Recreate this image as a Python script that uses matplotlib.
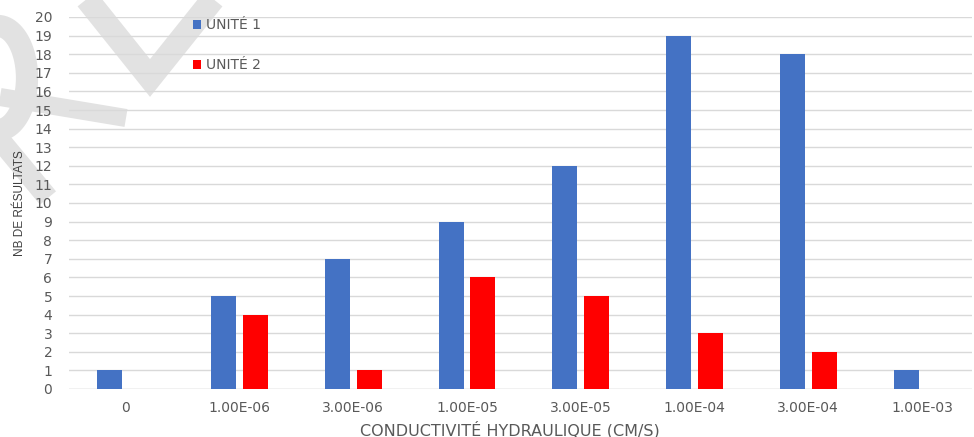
import matplotlib
matplotlib.use("Agg")
import matplotlib.pyplot as plt
import numpy as np
from matplotlib.lines import Line2D
from matplotlib import font_manager

categories = ["0", "1.00E-06", "3.00E-06", "1.00E-05", "3.00E-05",
              "1.00E-04", "3.00E-04", "1.00E-03"]
unite1 = [1, 5, 7, 9, 12, 19, 18, 1]
unite2 = [0, 4, 1, 6, 5, 3, 2, 0]

BLUE = "#4472C4"
RED = "#FF0000"
GREY = "#595959"

names = {f.name for f in font_manager.fontManager.ttflist}
if "Liberation Sans Narrow" in names:
    ylab_font, ylab_size = "Liberation Sans Narrow", 10.5
else:
    ylab_font, ylab_size = "Liberation Sans", 8.5

fig = plt.figure(figsize=(9.74, 4.37), dpi=100)
ax = fig.add_axes([69 / 974, 1 - 389 / 437, 903 / 974, 372 / 437])
ax.patch.set_visible(False)

x = np.arange(len(categories))
w = 0.22
ax.bar(x - 0.14, unite1, w, color=BLUE, label="UNITÉ 1", zorder=3)
ax.bar(x + 0.14, unite2, w, color=RED, label="UNITÉ 2", zorder=3)

ax.set_xlim(-0.5, 7.44)
ax.set_ylim(0, 20)
ax.set_yticks(range(0, 21))
ax.set_xticks(x)
ax.set_xticklabels(categories)
ax.tick_params(length=0, labelsize=10, labelcolor=GREY)
ax.tick_params(axis="y", pad=12)
ax.tick_params(axis="x", pad=9)
ax.grid(axis="y", color="#d9d9d9", linewidth=1, zorder=0)
for s in ax.spines.values():
    s.set_visible(False)
ax.axhline(0, color="#d9d9d9", linewidth=1, zorder=1)

fig.text(510 / 974, 1 - 430 / 437, "CONDUCTIVITÉ HYDRAULIQUE (CM/S)",
         fontsize=11.5, color=GREY, ha="center", va="center")
fig.text(20 / 974, 1 - 203 / 437, "NB DE RÉSULTATS", rotation=90,
         fontsize=ylab_size, color="#404040", family=[ylab_font, "DejaVu Sans"],
         ha="center", va="center")

leg = ax.legend(loc="upper left", bbox_to_anchor=(0.1235, 1.03), frameon=False,
                fontsize=10, labelcolor=GREY, handlelength=0.6, handleheight=0.6,
                handletextpad=0.35, labelspacing=1.85)

# faint watermark strokes in the top left corner, behind the chart
wm = dict(color="#e2e2e2", solid_capstyle="butt",
          transform=fig.transFigure, zorder=-1)
def px(xs, ys):
    return [v / 974 for v in xs], [1 - v / 437 for v in ys]
fig.add_artist(Line2D(*px([78, 150, 222], [-12, 78, -12]), linewidth=17,
                      solid_joinstyle="miter", **wm))
t = np.linspace(-np.pi / 2, np.pi / 2, 50)
fig.add_artist(Line2D(*px(list(-2 + 29 * np.cos(t)), list(78 + 52 * np.sin(t))),
                      linewidth=16, **wm))
fig.add_artist(Line2D(*px([0, 126], [97, 118]), linewidth=13, **wm))
fig.add_artist(Line2D(*px([0, 48], [140, 198]), linewidth=15, **wm))

fig.savefig("out.png", dpi=100)
